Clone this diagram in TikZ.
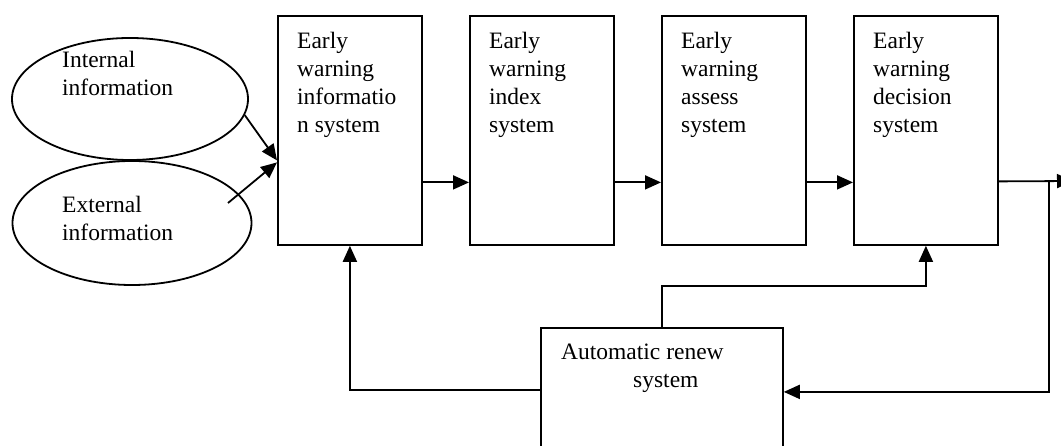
\documentclass[tikz,border=0pt]{standalone}
\usepackage{fontspec}
\setmainfont{Liberation Serif}
\usetikzlibrary{arrows.meta,shapes.geometric,calc}
\begin{document}
\begin{tikzpicture}[x=1pt,y=-1pt,
  box/.style={draw,line width=1.8pt,rectangle,anchor=north west,inner sep=0pt,minimum width=144pt,minimum height=229pt},
  ell/.style={draw,line width=1.8pt,ellipse,inner sep=0pt},
  txt/.style={anchor=north west,inner sep=0pt,align=left,font=\fontsize{23.5}{28}\selectfont},
  arr/.style={line width=1.8pt,-{Triangle[length=16pt,width=14pt]}}]
\useasboundingbox (0,0) rectangle (1061,446);
% ellipses
\node[ell,minimum width=236pt,minimum height=122pt] (ie) at (130,99) {};
\node[ell,minimum width=239pt,minimum height=124pt] (ee) at (132,223) {};
\node[txt] (iet) at (62,51) {Internal\\information};
\node[txt] (eet) at (62,196) {External\\information};
% boxes
\node[box] (b1) at (277,15) {};
\node[box] (b2) at (469,15) {};
\node[box] (b3) at (661,15) {};
\node[box] (b4) at (853,15) {};
\node[txt] (t1) at (297,32) {Early\\warning\\informatio\\n system};
\node[txt] (t2) at (489,32) {Early\\warning\\index\\system};
\node[txt] (t3) at (681,32) {Early\\warning\\assess\\system};
\node[txt] (t4) at (873,32) {Early\\warning\\decision\\system};
% automatic renew
\node[box,minimum width=242pt,minimum height=150pt] (ab) at (540,327) {};
\node[txt] (at) at (561,344) {Automatic renew\\\hspace*{72pt}system};
% connectors
\draw[arr] (ie.-8) -- ([yshift=-30pt]b1.west);
\draw[arr] ($(ee.center)+(96,-20)$) -- ([yshift=-32pt]b1.west);
\draw[arr] ([yshift=-52pt]b1.east) -- ([yshift=-52pt]b2.west);
\draw[arr] ([yshift=-52pt]b2.east) -- ([yshift=-52pt]b3.west);
\draw[arr] ([yshift=-52pt]b3.east) -- ([yshift=-52pt]b4.west);
\coordinate (out) at (1073,181);
\coordinate (sp) at (1049,181);
\draw[arr] ([yshift=-51pt]b4.east) -- (out);
\draw[arr] (sp) |- ([yshift=11pt]ab.east);
\draw[arr] ([yshift=13pt]ab.west) -| (b1.south);
\draw[arr] (ab.north) -- ++(0,-41) -| (b4.south);
\end{tikzpicture}
\end{document}
